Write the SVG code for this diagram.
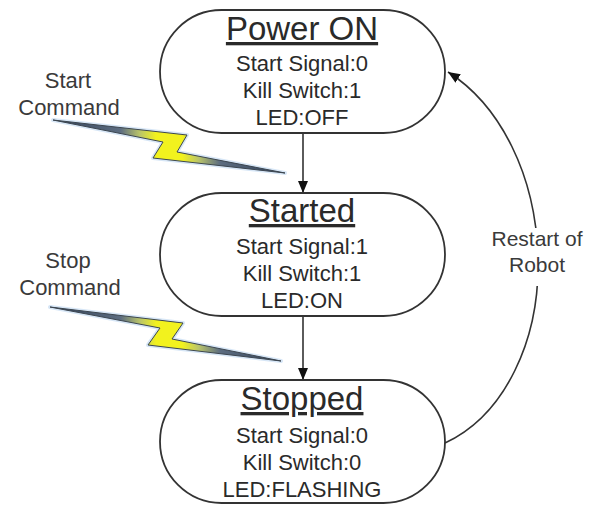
<svg xmlns="http://www.w3.org/2000/svg" width="591" height="506" viewBox="0 0 591 506">
<style>
.node{fill:#fff;stroke:#333;stroke-width:1.8}
.title{font-family:"Liberation Sans",Arial,sans-serif;font-size:33px;fill:#2a2a2a;text-anchor:middle;text-decoration:underline}
.body{font-family:"Liberation Sans",Arial,sans-serif;font-size:22px;fill:#2a2a2a;text-anchor:middle}
.lbl{font-family:"Liberation Sans",Arial,sans-serif;font-size:22px;fill:#3a3a3a;text-anchor:middle}
.lbl2{font-family:"Liberation Sans",Arial,sans-serif;font-size:21px;fill:#3a3a3a;text-anchor:middle}
.edge{fill:none;stroke:#333;stroke-width:1.6}
.bolt{fill:url(#boltGrad);stroke:#3c4650;stroke-width:1}
.glow{fill:none;stroke:#bcd6f0;stroke-width:4;stroke-linejoin:round;opacity:0.6}
</style>
<defs>
<marker id="arr" viewBox="0 0 12 10" refX="12" refY="5" markerWidth="12" markerHeight="10" markerUnits="userSpaceOnUse" orient="auto">
<path d="M0,0 L12,5 L0,10 z" fill="#111"/>
</marker>
<mask id="labelGap" maskUnits="userSpaceOnUse" x="0" y="0" width="591" height="506">
<rect x="0" y="0" width="591" height="506" fill="#fff"/>
<rect x="480" y="228" width="111" height="58" fill="#000"/>
</mask>
<linearGradient id="boltGrad" gradientUnits="userSpaceOnUse" x1="50" y1="0" x2="286" y2="0">
<stop offset="0" stop-color="#2f3f58"/>
<stop offset="0.3" stop-color="#5d6d80"/>
<stop offset="0.38" stop-color="#b9c46a"/>
<stop offset="0.45" stop-color="#f2f21e"/>
<stop offset="0.56" stop-color="#f2f21e"/>
<stop offset="0.63" stop-color="#b9c46a"/>
<stop offset="0.72" stop-color="#5d6d80"/>
<stop offset="1" stop-color="#2f3f58"/>
</linearGradient>
</defs>

<g id="connectors">
<line class="edge" x1="303" y1="133" x2="303" y2="193" marker-end="url(#arr)"/>
<line class="edge" x1="303" y1="316" x2="303" y2="380" marker-end="url(#arr)"/>
<path class="edge" d="M445,443 C505,415 540,340 538,258 C536,175 500,105 448,72" marker-end="url(#arr)" mask="url(#labelGap)"/>
<text class="lbl2" x="537" y="246">Restart of</text>
<text class="lbl2" x="537" y="272">Robot</text>
</g>

<g id="power-on">
<rect class="node" x="160" y="10" width="285" height="123" rx="61.5" ry="61.5"/>
<text class="title" x="302" y="40">Power ON</text>
<text class="body" x="302" y="71">Start Signal:0</text>
<text class="body" x="302" y="98">Kill Switch:1</text>
<text class="body" x="302" y="125">LED:OFF</text>
</g>

<g id="started">
<rect class="node" x="160" y="193" width="285" height="123" rx="61.5" ry="61.5"/>
<text class="title" x="302" y="222">Started</text>
<text class="body" x="302" y="254">Start Signal:1</text>
<text class="body" x="302" y="281">Kill Switch:1</text>
<text class="body" x="302" y="308">LED:ON</text>
</g>

<g id="stopped">
<rect class="node" x="160" y="380" width="285" height="123" rx="61.5" ry="61.5"/>
<text class="title" x="302" y="410">Stopped</text>
<text class="body" x="302" y="443">Start Signal:0</text>
<text class="body" x="302" y="470">Kill Switch:0</text>
<text class="body" x="302" y="497">LED:FLASHING</text>
</g>

<g id="start-command">
<text class="lbl" x="68" y="88">Start</text>
<text class="lbl" x="69" y="115">Command</text>
<polygon class="glow" points="53,120 187,135 177,152 285,173 153,158 163,142"/>
<polygon class="bolt" points="53,120 187,135 177,152 285,173 153,158 163,142"/>
</g>

<g id="stop-command">
<text class="lbl" x="68" y="268">Stop</text>
<text class="lbl" x="70" y="295">Command</text>
<polygon class="glow" points="50,307 183,323 172,339 281,361 148,345 160,328"/>
<polygon class="bolt" points="50,307 183,323 172,339 281,361 148,345 160,328"/>
</g>
</svg>
